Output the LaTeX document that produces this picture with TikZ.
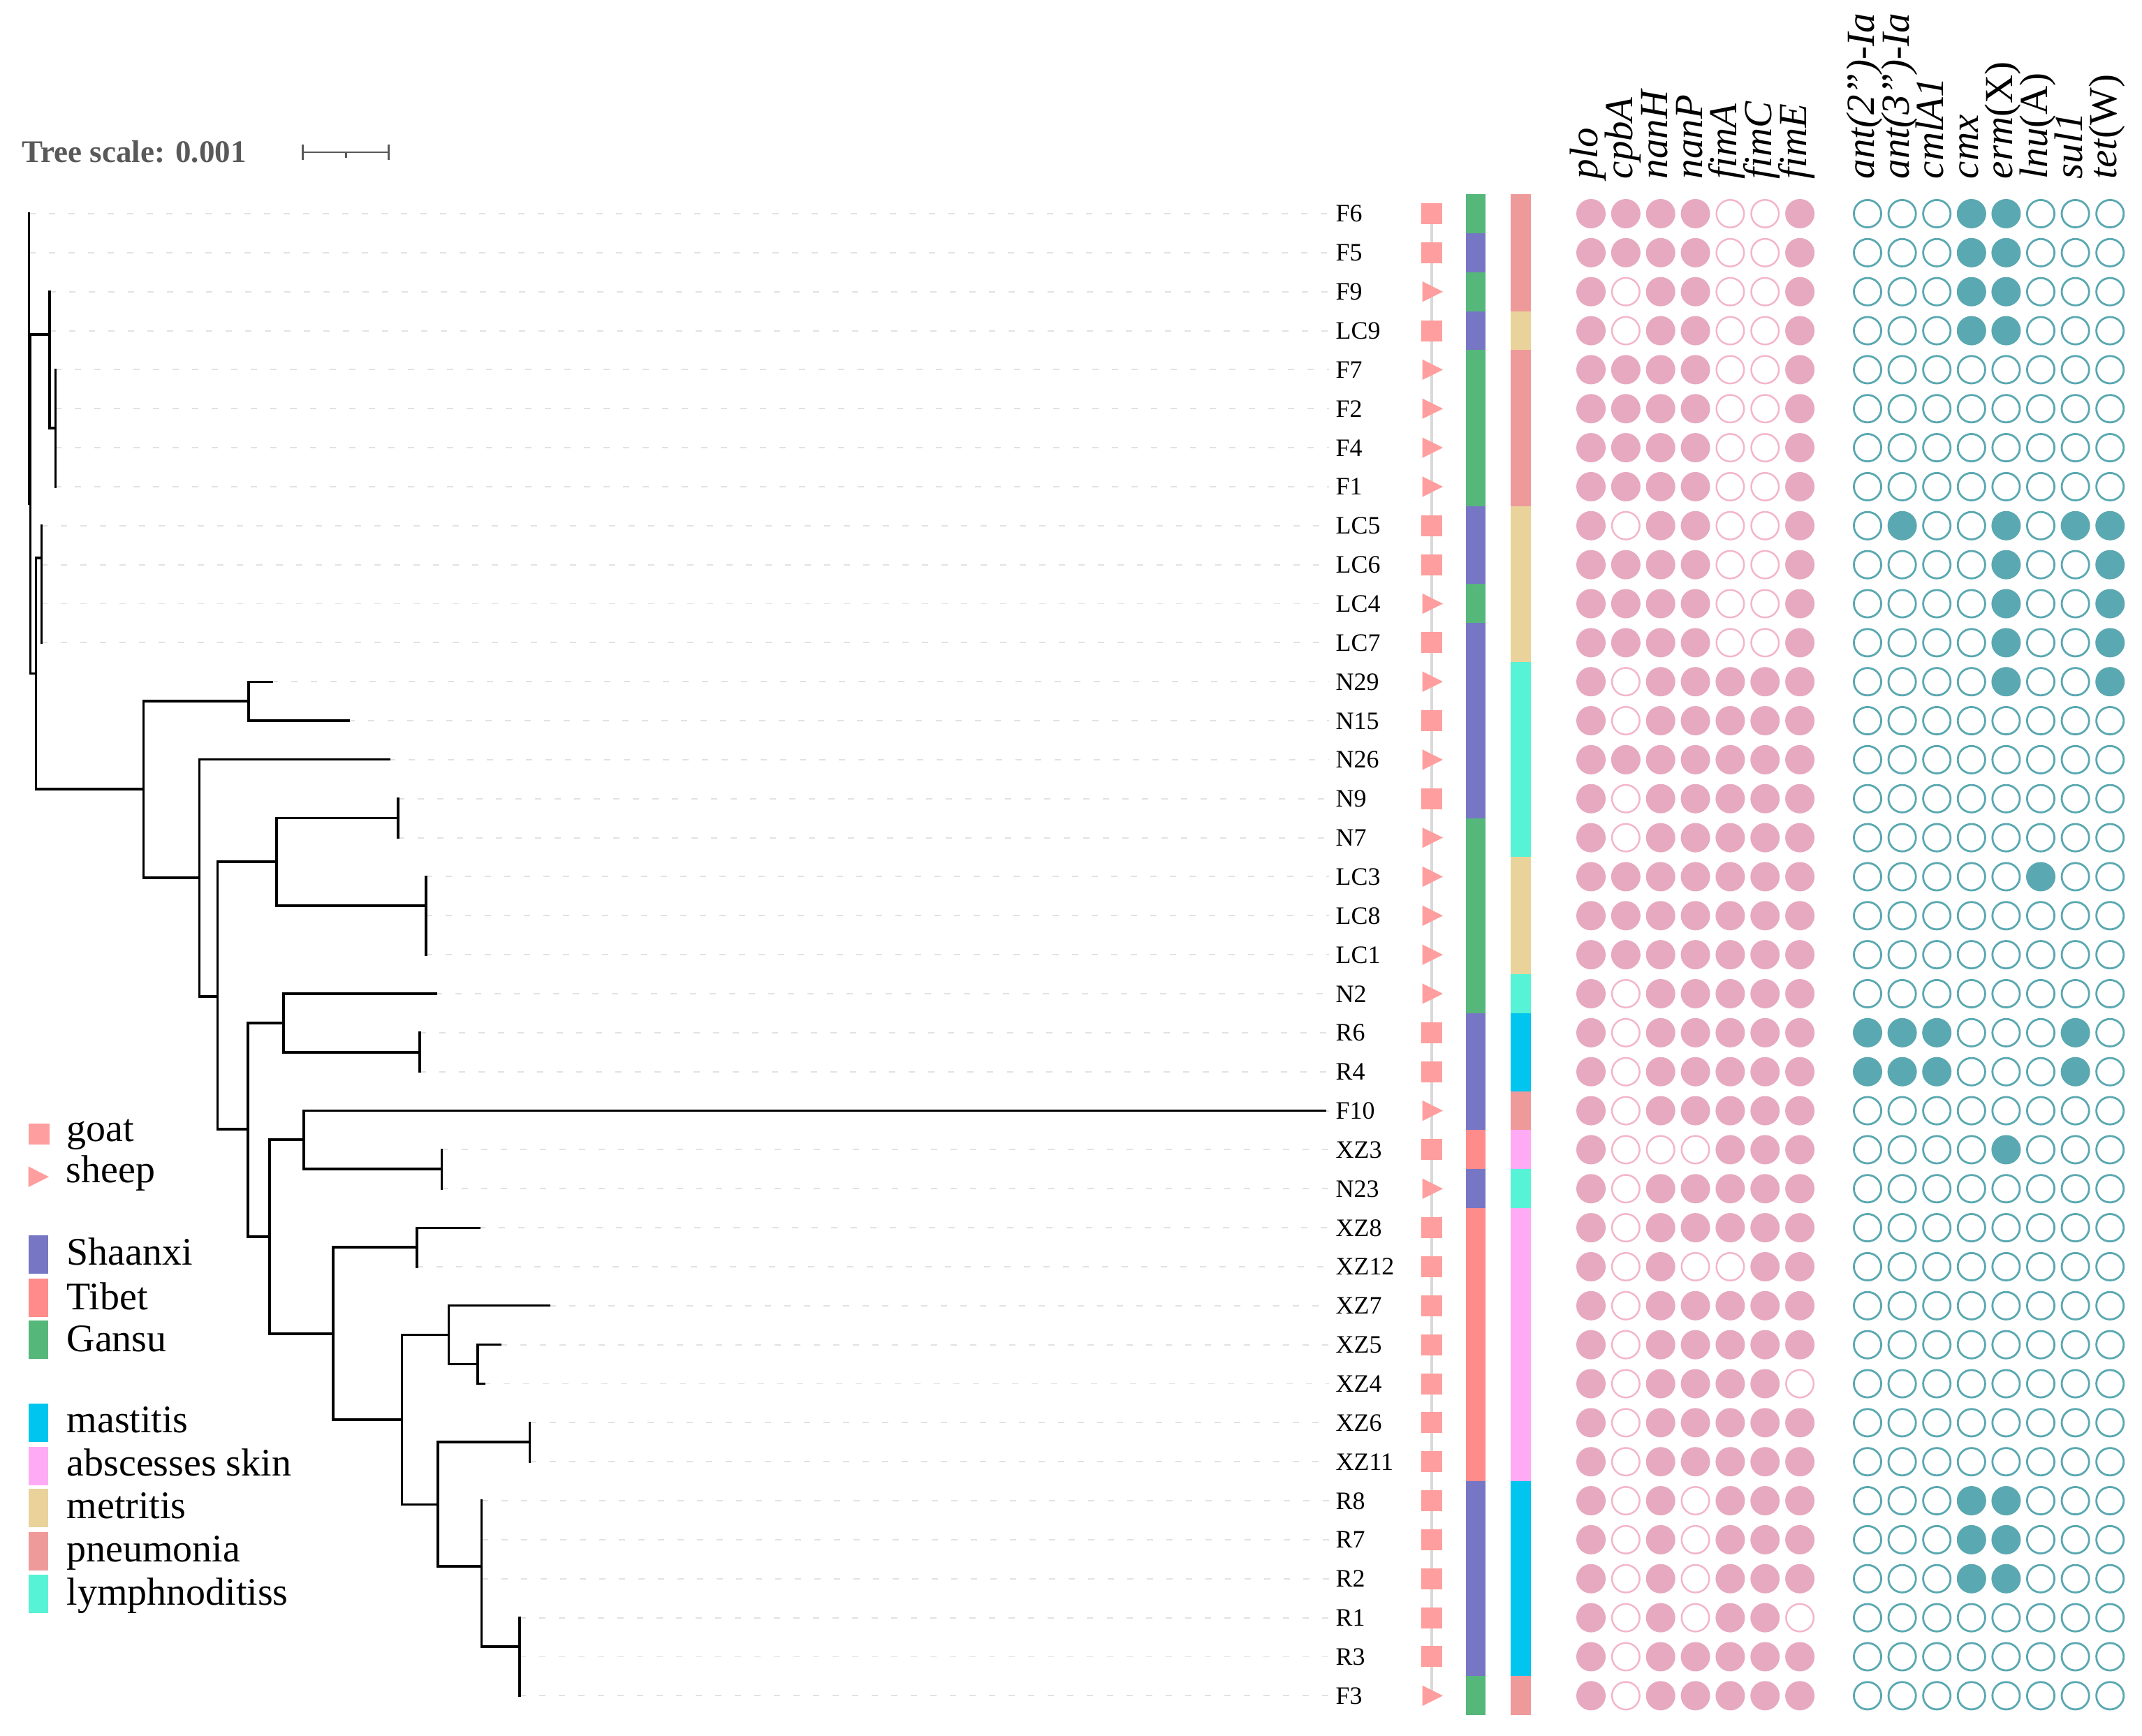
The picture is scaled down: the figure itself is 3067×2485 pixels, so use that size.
\documentclass[tikz,border=0pt]{standalone}
\usepackage{fontspec}
\setmainfont{Liberation Serif}
\definecolor{hS}{HTML}{7676C5}
\definecolor{hT}{HTML}{FF8B8B}
\definecolor{hG}{HTML}{56B77A}
\definecolor{dpn}{HTML}{EF9A9A}
\definecolor{dme}{HTML}{E9D39B}
\definecolor{dly}{HTML}{56F3D6}
\definecolor{dma}{HTML}{00C5EE}
\definecolor{dab}{HTML}{FFAAF5}
\definecolor{mk}{HTML}{FF9E9E}
\definecolor{vp}{HTML}{E7A9C0}
\definecolor{vpl}{HTML}{F3B5CA}
\definecolor{tl}{HTML}{5AA8B1}
\definecolor{sg}{HTML}{595959}
\definecolor{dg}{HTML}{E2E2E2}
\definecolor{lgc}{HTML}{D9D9D9}
\tikzset{
 tree/.style={line width=0.9pt, black, line cap=rect},
 dashln/.style={dg, line width=0.55pt, dash pattern=on 0.09cm off 0.19cm},
 leaflab/.style={anchor=base west, inner sep=0pt, font=\fontsize{10.2}{12}\selectfont},
 goatmark/.style={rectangle, fill=mk, minimum size=0.30cm, inner sep=0pt},
 cell/.style={rectangle, inner sep=0pt, minimum height=0.5605cm},
 vir1/.style={circle, fill=vp, minimum size=0.42cm, inner sep=0pt},
 vir0/.style={circle, draw=vpl, line width=0.7pt, fill=white, minimum size=0.395cm, inner sep=0pt},
 amr1/.style={circle, fill=tl, minimum size=0.42cm, inner sep=0pt},
 amr0/.style={circle, draw=tl, line width=0.8pt, fill=white, minimum size=0.392cm, inner sep=0pt},
 hdr/.style={rotate=90, anchor=base west, inner sep=0pt, font=\fontsize{16.2}{19}\selectfont\itshape},
 legtxt/.style={anchor=base west, inner sep=0pt, font=\fontsize{15.9}{19}\selectfont},
 legbox/.style={rectangle, inner sep=0pt, minimum width=0.28cm, minimum height=0.55cm},
}
\newcommand\leafrow[8]{%
 \pgfmathsetmacro\ry{306+55.85*#1}%
 \coordinate (t#2) at (#3,\ry);
 \draw[dashln] (t#2) -- (1903,\ry);
 \node[leaflab] (l#2) at (1912,\ry+12) {#2};
 \if#4s\node[goatmark] (m#2) at (2050,\ry) {};%
 \else\fill[mk] (2036.5,\ry-14.7) coordinate (m#2) -- (2066,\ry) -- (2036.5,\ry+14.7) -- cycle;\fi
 \node[cell,minimum width=0.28cm,fill=h#5] (h#2) at (2113,\ry) {};
 \node[cell,minimum width=0.29cm,fill=d#6] (d#2) at (2177.5,\ry) {};
 \foreach \vv [count=\cc from 0] in {#7}{\node[vir\vv] (v#2-\cc) at (2278+49.85*\cc,\ry) {};}
 \foreach \vv [count=\cc from 0] in {#8}{\node[amr\vv] (a#2-\cc) at (2674+49.6*\cc,\ry) {};}
}
\begin{document}
\begin{tikzpicture}[x=0.01cm,y=-0.01cm]
\useasboundingbox (0,0) rectangle (3067,2485);
% tree scale
\node[anchor=base west, inner sep=0pt, text=sg, font=\fontsize{12.8}{15}\selectfont\bfseries] (tsl) at (31,233) {Tree scale: 0.001};
\coordinate (sbL) at (433.5,218); \coordinate (sbR) at (556.5,218); \coordinate (sbM) at (495,218);
\draw[sg, line width=0.85pt] (sbL) -- (sbR);
\draw[sg, line width=0.85pt] (sbL) ++(0,-11) -- ++(0,22);
\draw[sg, line width=0.85pt] (sbR) ++(0,-11) -- ++(0,22);
\draw[sg, line width=0.85pt] (sbM) -- ++(0,8);
% gray guide in shape column
\coordinate (gTop) at (2050,306); \coordinate (gBot) at (2050,2428.3);
\draw[lgc, line width=1.15pt] (gTop) -- (gBot);
% headers
\foreach \t [count=\cc from 0] in {plo,cpbA,nanH,nanP,fimA,fimC,fimE}{\node[hdr] (hv\cc) at (2287.5+49.85*\cc,257) {\t};}
\node[hdr] (ha0) at (2683.5,257) {ant(2”)-Ia};
\node[hdr] (ha1) at (2733.1,257) {ant(3”)-Ia};
\node[hdr] (ha2) at (2782.7,257) {cmlA1};
\node[hdr] (ha3) at (2832.3,257) {cmx};
\node[hdr] (ha4) at (2881.9,257) {erm\textup{(X)}};
\node[hdr] (ha5) at (2931.5,257) {lnu\textup{(A)}};
\node[hdr] (ha6) at (2981.1,257) {sul1};
\node[hdr] (ha7) at (3030.7,257) {tet\textup{(W)}};
% rows
\leafrow{0}{F6}{41.7}{s}{G}{pn}{1,1,1,1,0,0,1}{0,0,0,1,1,0,0,0}
\leafrow{1}{F5}{41.7}{s}{S}{pn}{1,1,1,1,0,0,1}{0,0,0,1,1,0,0,0}
\leafrow{2}{F9}{71}{t}{G}{pn}{1,0,1,1,0,0,1}{0,0,0,1,1,0,0,0}
\leafrow{3}{LC9}{71}{s}{S}{me}{1,0,1,1,0,0,1}{0,0,0,1,1,0,0,0}
\leafrow{4}{F7}{79.3}{t}{G}{pn}{1,1,1,1,0,0,1}{0,0,0,0,0,0,0,0}
\leafrow{5}{F2}{79.3}{t}{G}{pn}{1,1,1,1,0,0,1}{0,0,0,0,0,0,0,0}
\leafrow{6}{F4}{79.3}{t}{G}{pn}{1,1,1,1,0,0,1}{0,0,0,0,0,0,0,0}
\leafrow{7}{F1}{79.3}{t}{G}{pn}{1,1,1,1,0,0,1}{0,0,0,0,0,0,0,0}
\leafrow{8}{LC5}{59.3}{s}{S}{me}{1,0,1,1,0,0,1}{0,1,0,0,1,0,1,1}
\leafrow{9}{LC6}{59.3}{s}{S}{me}{1,1,1,1,0,0,1}{0,0,0,0,1,0,0,1}
\leafrow{10}{LC4}{59.3}{t}{G}{me}{1,1,1,1,0,0,1}{0,0,0,0,1,0,0,1}
\leafrow{11}{LC7}{59.3}{s}{S}{me}{1,1,1,1,0,0,1}{0,0,0,0,1,0,0,1}
\leafrow{12}{N29}{389}{t}{S}{ly}{1,0,1,1,1,1,1}{0,0,0,0,1,0,0,1}
\leafrow{13}{N15}{499}{s}{S}{ly}{1,0,1,1,1,1,1}{0,0,0,0,0,0,0,0}
\leafrow{14}{N26}{557}{t}{S}{ly}{1,1,1,1,1,1,1}{0,0,0,0,0,0,0,0}
\leafrow{15}{N9}{570}{s}{S}{ly}{1,0,1,1,1,1,1}{0,0,0,0,0,0,0,0}
\leafrow{16}{N7}{570}{t}{G}{ly}{1,0,1,1,1,1,1}{0,0,0,0,0,0,0,0}
\leafrow{17}{LC3}{610}{t}{G}{me}{1,1,1,1,1,1,1}{0,0,0,0,0,1,0,0}
\leafrow{18}{LC8}{610}{t}{G}{me}{1,1,1,1,1,1,1}{0,0,0,0,0,0,0,0}
\leafrow{19}{LC1}{610}{t}{G}{me}{1,1,1,1,1,1,1}{0,0,0,0,0,0,0,0}
\leafrow{20}{N2}{624}{t}{G}{ly}{1,0,1,1,1,1,1}{0,0,0,0,0,0,0,0}
\leafrow{21}{R6}{601}{s}{S}{ma}{1,0,1,1,1,1,1}{1,1,1,0,0,0,1,0}
\leafrow{22}{R4}{601}{s}{S}{ma}{1,0,1,1,1,1,1}{1,1,1,0,0,0,1,0}
\leafrow{23}{F10}{1897}{t}{S}{pn}{1,0,1,1,1,1,1}{0,0,0,0,0,0,0,0}
\leafrow{24}{XZ3}{632.6}{s}{T}{ab}{1,0,0,0,1,1,1}{0,0,0,0,1,0,0,0}
\leafrow{25}{N23}{632.6}{t}{S}{ly}{1,0,1,1,1,1,1}{0,0,0,0,0,0,0,0}
\leafrow{26}{XZ8}{686}{s}{T}{ab}{1,0,1,1,1,1,1}{0,0,0,0,0,0,0,0}
\leafrow{27}{XZ12}{597}{s}{T}{ab}{1,0,1,0,0,1,1}{0,0,0,0,0,0,0,0}
\leafrow{28}{XZ7}{786.6}{s}{T}{ab}{1,0,1,1,1,1,1}{0,0,0,0,0,0,0,0}
\leafrow{29}{XZ5}{716.5}{s}{T}{ab}{1,0,1,1,1,1,1}{0,0,0,0,0,0,0,0}
\leafrow{30}{XZ4}{693}{s}{T}{ab}{1,0,1,1,1,1,0}{0,0,0,0,0,0,0,0}
\leafrow{31}{XZ6}{758.5}{s}{T}{ab}{1,0,1,1,1,1,1}{0,0,0,0,0,0,0,0}
\leafrow{32}{XZ11}{758.5}{s}{T}{ab}{1,0,1,1,1,1,1}{0,0,0,0,0,0,0,0}
\leafrow{33}{R8}{689.7}{s}{S}{ma}{1,0,1,0,1,1,1}{0,0,0,1,1,0,0,0}
\leafrow{34}{R7}{689.7}{s}{S}{ma}{1,0,1,0,1,1,1}{0,0,0,1,1,0,0,0}
\leafrow{35}{R2}{689.7}{s}{S}{ma}{1,0,1,0,1,1,1}{0,0,0,1,1,0,0,0}
\leafrow{36}{R1}{744}{s}{S}{ma}{1,0,1,0,1,1,0}{0,0,0,0,0,0,0,0}
\leafrow{37}{R3}{744}{s}{S}{ma}{1,0,1,1,1,1,1}{0,0,0,0,0,0,0,0}
\leafrow{38}{F3}{744}{t}{G}{pn}{1,0,1,1,1,1,1}{0,0,0,0,0,0,0,0}
% internal tree nodes
\coordinate (nR) at (41.7,306);
\coordinate (nG) at (43.2,721.5);
\coordinate (nA) at (71,479);
\coordinate (nB) at (79.3,613);
\coordinate (nD) at (51.7,964.5);
\coordinate (nE) at (59.3,799);
\coordinate (nF) at (205.5,1130);
\coordinate (nH) at (356,1004);
\coordinate (nI) at (285.3,1257);
\coordinate (nJ) at (311.7,1427);
\coordinate (nK) at (396,1234);
\coordinate (nL) at (570,1171.7);
\coordinate (nM) at (610,1297);
\coordinate (nP) at (355,1617);
\coordinate (nN) at (406,1465);
\coordinate (nO) at (601,1507);
\coordinate (nQ) at (386,1771);
\coordinate (nRr) at (435,1632);
\coordinate (nS) at (632.6,1674);
\coordinate (nT) at (477,1910);
\coordinate (nU) at (597,1786);
\coordinate (nV) at (575.5,2033);
\coordinate (nW) at (642.4,1911.5);
\coordinate (nX) at (684,1953.5);
\coordinate (nY) at (627,2154.5);
\coordinate (nZ) at (758.5,2065);
\coordinate (nAA) at (689.7,2243);
\coordinate (nAB) at (744,2358);
\draw[tree] (nR) |- (tF6) (nR) |- (tF5) (nR) |- (nG)
 (nG) |- (nA) (nG) |- (nD)
 (nA) |- (tF9) (nA) |- (tLC9) (nA) |- (nB)
 (nB) |- (tF7) (nB) |- (tF2) (nB) |- (tF4) (nB) |- (tF1)
 (nD) |- (nE) (nD) |- (nF)
 (nE) |- (tLC5) (nE) |- (tLC6) (nE) |- (tLC4) (nE) |- (tLC7)
 (nF) |- (nH) (nF) |- (nI)
 (nH) |- (tN29) (nH) |- (tN15)
 (nI) |- (tN26) (nI) |- (nJ)
 (nJ) |- (nK) (nJ) |- (nP)
 (nK) |- (nL) (nK) |- (nM)
 (nL) |- (tN9) (nL) |- (tN7)
 (nM) |- (tLC3) (nM) |- (tLC8) (nM) |- (tLC1)
 (nP) |- (nN) (nP) |- (nQ)
 (nN) |- (tN2) (nN) |- (nO)
 (nO) |- (tR6) (nO) |- (tR4)
 (nQ) |- (nRr) (nQ) |- (nT)
 (nRr) |- (tF10) (nRr) |- (nS)
 (nS) |- (tXZ3) (nS) |- (tN23)
 (nT) |- (nU) (nT) |- (nV)
 (nU) |- (tXZ8) (nU) |- (tXZ12)
 (nV) |- (nW) (nV) |- (nY)
 (nW) |- (tXZ7) (nW) |- (nX)
 (nX) |- (tXZ5) (nX) |- (tXZ4)
 (nY) |- (nZ) (nY) |- (nAA)
 (nZ) |- (tXZ6) (nZ) |- (tXZ11)
 (nAA) |- (tR8) (nAA) |- (tR7) (nAA) |- (tR2) (nAA) |- (nAB)
 (nAB) |- (tR1) (nAB) |- (tR3) (nAB) |- (tF3);
% legend
\node[goatmark] (lg1) at (55.7,1624) {};
\node[legtxt] (lt1) at (95,1634.6) {goat};
\fill[mk] (40.7,1670.4) coordinate (lg2) -- (70,1685.2) -- (40.7,1700) -- cycle;
\node[legtxt] (lt2) at (94,1693.3) {sheep};
\node[legbox, fill=hS] (lg3) at (54.7,1796) {};
\node[legtxt] (lt3) at (95,1811) {Shaanxi};
\node[legbox, fill=hT] (lg4) at (54.7,1858.5) {};
\node[legtxt] (lt4) at (95,1875) {Tibet};
\node[legbox, fill=hG] (lg5) at (54.7,1918.3) {};
\node[legtxt] (lt5) at (95,1935) {Gansu};
\node[legbox, fill=dma] (lg6) at (54.7,2037.5) {};
\node[legtxt] (lt6) at (95,2051) {mastitis};
\node[legbox, fill=dab] (lg7) at (54.7,2099.5) {};
\node[legtxt] (lt7) at (95,2113) {abscesses skin};
\node[legbox, fill=dme] (lg8) at (54.7,2159.5) {};
\node[legtxt] (lt8) at (95,2174) {metritis};
\node[legbox, fill=dpn] (lg9) at (54.7,2221.5) {};
\node[legtxt] (lt9) at (95,2236) {pneumonia};
\node[legbox, fill=dly] (lg10) at (54.7,2282.5) {};
\node[legtxt] (lt10) at (95,2298) {lymphnoditiss};
\end{tikzpicture}
\end{document}
